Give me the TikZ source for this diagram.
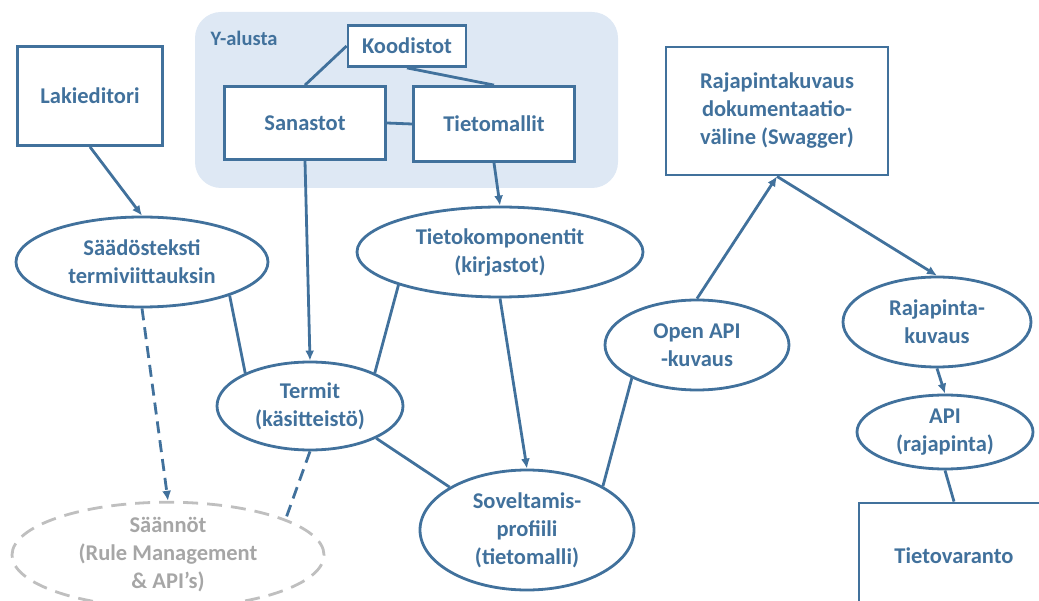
\documentclass[tikz,border=0pt]{standalone}
\usepackage{fontspec}
\setmainfont{Carlito}
\usetikzlibrary{arrows.meta,shapes.geometric}
\definecolor{ylinja}{HTML}{41719C}
\definecolor{ytausta}{HTML}{DEE8F4}
\definecolor{harmaa}{HTML}{BFBFBF}
\definecolor{harmaateksti}{HTML}{A6A6A6}
\begin{document}
\begin{tikzpicture}[x=1pt,y=-1pt,line width=2.8pt,
  every node/.style={font=\fontsize{22.5}{28}\selectfont\bfseries, text=ylinja, align=center},
  laatikko/.style={rectangle, draw=ylinja, fill=white, inner sep=0pt},
  soikio/.style={ellipse, draw=ylinja, fill=white, inner sep=0pt},
  nuoli/.style={draw=ylinja, -{Latex[length=10pt,width=9pt]}},
  viiva/.style={draw=ylinja},
  katko/.style={draw=ylinja, dash pattern=on 12pt off 7pt}]
\useasboundingbox (0,0) rectangle (1039,601);
\clip (0,0) rectangle (1039,601);
% Y-alusta
\fill[ytausta, rounded corners=26pt] (195,12) rectangle (618,188);
\node (yalusta) at (244,38) [font=\fontsize{20.5}{24}\selectfont\bfseries] {Y-alusta};
\node (koodistot) at (407,46) [laatikko, minimum width=118pt, minimum height=41pt] {Koodistot};
\node (sanastot) at (305,123) [laatikko, minimum width=161pt, minimum height=73pt] {Sanastot};
\node (tietomallit) at (494,124) [laatikko, minimum width=161pt, minimum height=75pt] {Tietomallit};
% vasen puoli
\node (lakieditori) at (90,96) [laatikko, minimum width=145pt, minimum height=99pt] {Lakieditori};
\node (saados) at (142,262) [soikio, minimum width=252pt, minimum height=90pt] {Säädösteksti\\termiviittauksin};
\node (termit) at (310,406) [soikio, minimum width=186pt, minimum height=88pt] {Termit\\(käsitteistö)};
\node (tietokomp) at (500,252) [soikio, minimum width=286pt, minimum height=90pt] {Tietokomponentit\\(kirjastot)};
\node (sovellus) at (527,530) [soikio, minimum width=214pt, minimum height=120pt] {Soveltamis-\\profiili\\(tietomalli)};
\node (saannot) at (168,555) [ellipse, draw=harmaa, dash pattern=on 15pt off 9pt, inner sep=0pt,
  minimum width=312pt, minimum height=96pt, text=harmaateksti] {Säännöt\\(Rule Management\\\& API\symbol{39}s)};
% oikea puoli
\node (openapi) at (697,345) [soikio, minimum width=184pt, minimum height=90pt] {Open API\\-kuvaus};
\node (swagger) at (777,111) [laatikko, minimum width=222pt, minimum height=128pt] {Rajapintakuvaus\\dokumentaatio-\\väline (Swagger)};
\node (rajakuvaus) at (937,322) [soikio, minimum width=188pt, minimum height=90pt] {Rajapinta-\\kuvaus};
\node (api) at (945,432) [soikio, minimum width=176pt, minimum height=74pt] {API\\(rajapinta)};
\node (varanto) at (954,556) [laatikko, minimum width=190pt, minimum height=106pt] {Tietovaranto};
% yhteydet
\draw[viiva] (koodistot.west) -- (sanastot.north);
\draw[viiva] (koodistot.south) -- (tietomallit.north);
\draw[viiva] (sanastot.east) -- (tietomallit.west);
\draw[nuoli] (lakieditori.south) -- (saados.north);
\draw[nuoli] (sanastot.south) -- (termit.north);
\draw[nuoli] (tietomallit.south) -- (tietokomp.north);
\draw[viiva] (saados.-21) -- (termit.153);
\draw[viiva] (termit.27) -- (tietokomp.-162);
\draw[nuoli] (tietokomp.south) -- (sovellus.north);
\draw[viiva] (termit.-26) -- (sovellus.151);
\draw[viiva] (openapi.207) -- (sovellus.30);
\draw[nuoli] (openapi.north) -- (swagger.south);
\draw[nuoli] (swagger.south) -- (rajakuvaus.north);
\draw[nuoli] (rajakuvaus.south) -- (api.north);
\draw[viiva] (api.south) -- (varanto.north);
\draw[katko, -{Latex[length=10pt,width=9pt]}] (saados.south) -- (saannot.north);
\draw[katko] (termit.south) -- (saannot.17);
\end{tikzpicture}
\end{document}
